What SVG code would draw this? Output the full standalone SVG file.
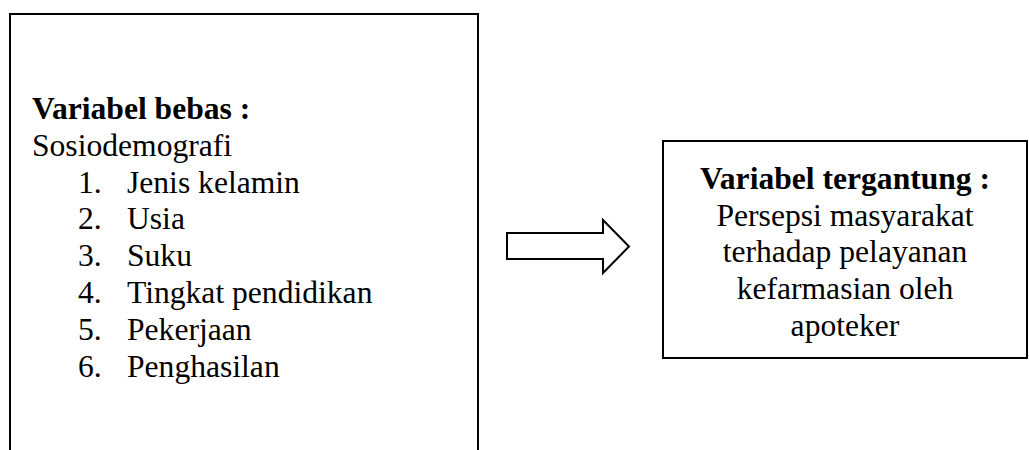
<svg xmlns="http://www.w3.org/2000/svg" width="1029" height="450" viewBox="0 0 1029 450">
<style>
.box{fill:#fff;stroke:#000;stroke-width:2}
.t{font-family:'Liberation Serif','Times New Roman',Times,serif;font-size:31.6px;fill:#000}
.b{font-weight:bold}
.c{text-anchor:middle}
</style>
<rect width="1029" height="450" fill="#fff"/>
<g id="variabel-bebas">
<rect class="box" x="10" y="14" width="468" height="460"/>
<g class="t" font-family="Liberation Serif">
<text class="b" x="32" y="119">Variabel bebas :</text>
<text x="32" y="155.8">Sosiodemografi</text>
<text x="78" y="192.6">1.</text><text x="127" y="192.6">Jenis kelamin</text>
<text x="78" y="229.4">2.</text><text x="127" y="229.4">Usia</text>
<text x="78" y="266.2">3.</text><text x="127" y="266.2">Suku</text>
<text x="78" y="303">4.</text><text x="127" y="303">Tingkat pendidikan</text>
<text x="78" y="339.8">5.</text><text x="127" y="339.8">Pekerjaan</text>
<text x="78" y="376.6">6.</text><text x="127" y="376.6">Penghasilan</text>
</g>
</g>
<g id="connectors">
<polygon class="box" points="507,233 603,233 603,220 629,246.5 603,273 603,259 507,259"/>
</g>
<g id="variabel-tergantung">
<rect class="box" x="663" y="141" width="364" height="217"/>
<g class="t c" font-family="Liberation Serif">
<text class="b" x="845" y="189">Variabel tergantung :</text>
<text x="845" y="225.7">Persepsi masyarakat</text>
<text x="845" y="262.4">terhadap pelayanan</text>
<text x="845" y="299.1">kefarmasian oleh</text>
<text x="845" y="335.8">apoteker</text>
</g>
</g>
</svg>
